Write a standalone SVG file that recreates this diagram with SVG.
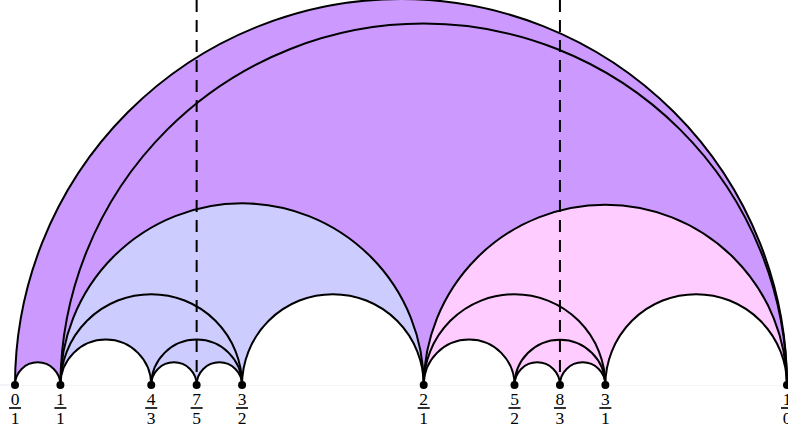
<svg xmlns="http://www.w3.org/2000/svg" width="788" height="432" viewBox="0 0 788 432">
<style>
.arc{fill:none;stroke:#000;stroke-width:2}
.pu{fill:#cc99ff}.bl{fill:#ccccff}.pk{fill:#ffccff}.wh{fill:#ffffff}
.dash{stroke:#000;stroke-width:2;stroke-dasharray:12 8;fill:none}
.pt{fill:#000}
.num{font-family:"Liberation Serif","DejaVu Serif",serif;font-size:17.5px;text-anchor:middle;fill:#000}
.bar{fill:#000}
</style>
<rect width="788" height="432" fill="#fff"/>
<line x1="0" y1="385" x2="788" y2="385" stroke="#ebe5f3" stroke-width="1"/>
<g id="fills">
<path class="pu" d="M15 385 A386 386 0 0 1 787 385Z"/>
<path class="bl" d="M60.41 385 A181.65 181.65 0 0 1 423.71 385Z"/>
<path class="pk" d="M423.71 385 A181.65 181.65 0 0 1 787 385Z"/>
<path class="wh" d="M242.06 385 A90.82 90.82 0 0 1 423.71 385Z"/>
<path class="wh" d="M605.35 385 A90.82 90.82 0 0 1 787 385Z"/>
<path class="wh" d="M15 385 A22.7 22.7 0 0 1 60.41 385Z"/>
<path class="wh" d="M60.41 385 A45.41 45.41 0 0 1 151.24 385Z"/>
<path class="wh" d="M423.71 385 A45.41 45.41 0 0 1 514.53 385Z"/>
<path class="wh" d="M151.24 385 A22.7 22.7 0 0 1 196.65 385Z"/>
<path class="wh" d="M196.65 385 A22.7 22.7 0 0 1 242.06 385Z"/>
<path class="wh" d="M514.53 385 A22.7 22.7 0 0 1 559.94 385Z"/>
<path class="wh" d="M559.94 385 A22.7 22.7 0 0 1 605.35 385Z"/>
</g>
<g id="arcs">
<path class="arc" d="M15 385 A386 386 0 0 1 787 385"/>
<path class="arc" d="M60.41 385 A363.3 363.3 0 0 1 787 385"/>
<path class="arc" d="M60.41 385 A181.65 181.65 0 0 1 423.71 385"/>
<path class="arc" d="M423.71 385 A181.65 181.65 0 0 1 787 385"/>
<path class="arc" d="M60.41 385 A90.82 90.82 0 0 1 242.06 385"/>
<path class="arc" d="M242.06 385 A90.82 90.82 0 0 1 423.71 385"/>
<path class="arc" d="M423.71 385 A90.82 90.82 0 0 1 605.35 385"/>
<path class="arc" d="M605.35 385 A90.82 90.82 0 0 1 787 385"/>
<path class="arc" d="M15 385 A22.7 22.7 0 0 1 60.41 385"/>
<path class="arc" d="M60.41 385 A45.41 45.41 0 0 1 151.24 385"/>
<path class="arc" d="M151.24 385 A45.41 45.41 0 0 1 242.06 385"/>
<path class="arc" d="M151.24 385 A22.7 22.7 0 0 1 196.65 385"/>
<path class="arc" d="M196.65 385 A22.7 22.7 0 0 1 242.06 385"/>
<path class="arc" d="M423.71 385 A45.41 45.41 0 0 1 514.53 385"/>
<path class="arc" d="M514.53 385 A45.41 45.41 0 0 1 605.35 385"/>
<path class="arc" d="M514.53 385 A22.7 22.7 0 0 1 559.94 385"/>
<path class="arc" d="M559.94 385 A22.7 22.7 0 0 1 605.35 385"/>
</g>
<g id="dashed">
<line class="dash" x1="196.65" y1="0" x2="196.65" y2="385"/>
<line class="dash" x1="559.94" y1="0" x2="559.94" y2="385"/>
</g>
<g id="points">
<circle class="pt" cx="15" cy="385" r="4"/>
<circle class="pt" cx="60.41" cy="385" r="4"/>
<circle class="pt" cx="151.24" cy="385" r="4"/>
<circle class="pt" cx="196.65" cy="385" r="4"/>
<circle class="pt" cx="242.06" cy="385" r="4"/>
<circle class="pt" cx="423.71" cy="385" r="4"/>
<circle class="pt" cx="514.53" cy="385" r="4"/>
<circle class="pt" cx="559.94" cy="385" r="4"/>
<circle class="pt" cx="605.35" cy="385" r="4"/>
<circle class="pt" cx="787" cy="385" r="4"/>
</g>
<g id="labels">
<g id="l01"><text class="num" x="15" y="405">0</text><rect class="bar" x="9" y="407.2" width="12" height="1.6"/><text class="num" x="15" y="424">1</text></g>
<g id="l11"><text class="num" x="60.41" y="405">1</text><rect class="bar" x="54.41" y="407.2" width="12" height="1.6"/><text class="num" x="60.41" y="424">1</text></g>
<g id="l43"><text class="num" x="151.24" y="405">4</text><rect class="bar" x="145.24" y="407.2" width="12" height="1.6"/><text class="num" x="151.24" y="424">3</text></g>
<g id="l75"><text class="num" x="196.65" y="405">7</text><rect class="bar" x="190.65" y="407.2" width="12" height="1.6"/><text class="num" x="196.65" y="424">5</text></g>
<g id="l32"><text class="num" x="242.06" y="405">3</text><rect class="bar" x="236.06" y="407.2" width="12" height="1.6"/><text class="num" x="242.06" y="424">2</text></g>
<g id="l21"><text class="num" x="423.71" y="405">2</text><rect class="bar" x="417.71" y="407.2" width="12" height="1.6"/><text class="num" x="423.71" y="424">1</text></g>
<g id="l52"><text class="num" x="514.53" y="405">5</text><rect class="bar" x="508.53" y="407.2" width="12" height="1.6"/><text class="num" x="514.53" y="424">2</text></g>
<g id="l83"><text class="num" x="559.94" y="405">8</text><rect class="bar" x="553.94" y="407.2" width="12" height="1.6"/><text class="num" x="559.94" y="424">3</text></g>
<g id="l31"><text class="num" x="605.35" y="405">3</text><rect class="bar" x="599.35" y="407.2" width="12" height="1.6"/><text class="num" x="605.35" y="424">1</text></g>
<g id="l10"><text class="num" x="787" y="405">1</text><rect class="bar" x="781" y="407.2" width="12" height="1.6"/><text class="num" x="787" y="424">0</text></g>
</g>
</svg>
